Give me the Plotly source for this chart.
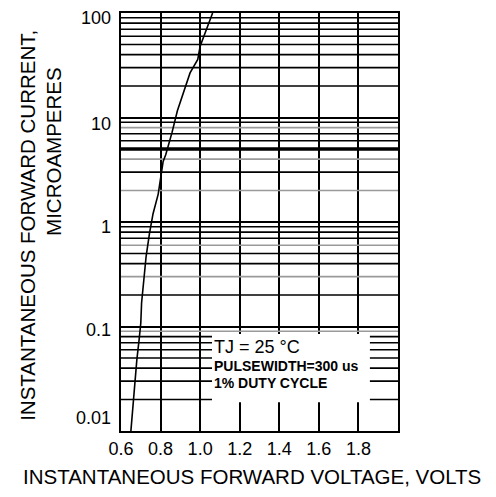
import math
import plotly.graph_objects as go

# ---- data ----
voltage = [0.65, 0.657, 0.669, 0.68, 0.692, 0.70, 0.704, 0.713, 0.727, 0.744,
           0.762, 0.788, 0.801, 0.813, 0.826, 0.858, 0.885, 0.949, 0.988, 1.0, 1.063]
current = [0.01, 0.015, 0.027, 0.048, 0.076, 0.108, 0.168, 0.26, 0.47, 0.78,
           1.2, 1.85, 2.84, 3.8, 4.4, 7.2, 11.6, 26.7, 36, 48, 100]

x_tickvals = [0.6, 0.8, 1.0, 1.2, 1.4, 1.6, 1.8]
x_ticktext = ["0.6", "0.8", "1.0", "1.2", "1.4", "1.6", "1.8"]
y_tickvals = [0.01, 0.1, 1, 10, 100]
y_ticktext = ["0.01", "0.1", "1", "10", "100"]

minor_black = [0.02, 0.03, 0.04, 0.05, 0.06, 0.07, 0.08,
               0.2, 0.4, 0.5, 0.7, 0.8, 0.9,
               3, 5, 6, 7, 9,
               20, 30, 40, 50, 60, 70, 80, 90]
minor_gray = [0.09, 0.3, 0.6, 2, 4, 8]
thick_level = [5]

X_MIN, X_MAX = 0.6, 2.0
FONT = "Liberation Sans, Arial, sans-serif"
# pixel nudges of the y tick labels (the scan prints them slightly off the lines)
Y_LABEL_SHIFT = {"0.01": 13, "0.1": -3, "1": -5, "10": -6, "100": -5}


def hlines(vals):
    xs, ys = [], []
    for v in vals:
        xs += [X_MIN, X_MAX, None]
        ys += [v, v, None]
    return xs, ys


fig = go.Figure()

xs, ys = hlines(minor_black)
fig.add_trace(go.Scatter(x=xs, y=ys, mode="lines", hoverinfo="skip",
                         line=dict(color="black", width=1.6), showlegend=False))
xs, ys = hlines(minor_gray)
fig.add_trace(go.Scatter(x=xs, y=ys, mode="lines", hoverinfo="skip",
                         line=dict(color="#9a9a9a", width=1.6), showlegend=False))
xs, ys = hlines(thick_level)
fig.add_trace(go.Scatter(x=xs, y=ys, mode="lines", hoverinfo="skip",
                         line=dict(color="black", width=3.5), showlegend=False))

fig.add_trace(go.Scatter(x=voltage, y=current, mode="lines",
                         line=dict(color="black", width=1.6), showlegend=False))

# white box behind the test-condition note
fig.add_shape(type="rect", xref="x", yref="y domain",
              x0=1.06, x1=1.858, y0=0.069, y1=0.232,
              fillcolor="white", line=dict(width=0), layer="above")

fig.add_annotation(text="TJ = 25 °C", xref="x", yref="y domain",
                   x=1.06, y=0.200, xanchor="left", yanchor="middle",
                   showarrow=False, font=dict(family=FONT, size=18, color="black"))
fig.add_annotation(text="<b>PULSEWIDTH=300 us</b>", xref="x", yref="y domain",
                   x=1.06, y=0.1555, xanchor="left", yanchor="middle",
                   showarrow=False, font=dict(family=FONT, size=14, color="black"))
fig.add_annotation(text="<b>1% DUTY CYCLE</b>", xref="x", yref="y domain",
                   x=1.06, y=0.1148, xanchor="left", yanchor="middle",
                   showarrow=False, font=dict(family=FONT, size=14, color="black"))

# y tick labels (placed on the log axis at their values)
for v, t in zip(y_tickvals, y_ticktext):
    fig.add_annotation(text=t, xref="paper", yref="y", x=-0.029, y=math.log10(v),
                       xanchor="right", yanchor="middle", yshift=Y_LABEL_SHIFT[t],
                       showarrow=False, font=dict(family=FONT, size=18, color="black"))

# axis titles
fig.add_annotation(text="INSTANTANEOUS FORWARD CURRENT,", xref="paper", yref="paper",
                   x=-0.336, y=0.493, textangle=-90, xanchor="center", yanchor="middle",
                   showarrow=False, font=dict(family=FONT, size=20.5, color="black"))
fig.add_annotation(text="MICROAMPERES", xref="paper", yref="paper",
                   x=-0.242, y=0.670, textangle=-90, xanchor="center", yanchor="middle",
                   showarrow=False, font=dict(family=FONT, size=20.5, color="black"))
fig.add_annotation(text="INSTANTANEOUS FORWARD VOLTAGE, VOLTS", xref="paper", yref="paper",
                   x=0.473, y=-0.108, xanchor="center", yanchor="middle",
                   showarrow=False, font=dict(family=FONT, size=20.5, color="black"))

fig.update_xaxes(range=[X_MIN, X_MAX], tickmode="array", tickvals=x_tickvals,
                 ticktext=x_ticktext, showgrid=True, gridcolor="black", gridwidth=2,
                 showline=True, linecolor="black", linewidth=2, mirror=True,
                 zeroline=False, ticks="", tickfont=dict(family=FONT, size=18, color="black"))
fig.update_yaxes(type="log", range=[-2, 2], tickmode="array", tickvals=y_tickvals,
                 ticktext=y_ticktext, showticklabels=False, showgrid=True,
                 gridcolor="black", gridwidth=2,
                 showline=True, linecolor="black", linewidth=2, mirror=True,
                 zeroline=False, ticks="")

# page body adds an 8px margin, so the figure is sized/positioned to compensate
fig.update_layout(width=488, height=489, autosize=False,
                  margin=dict(l=113, r=98, t=5, b=66, autoexpand=False),
                  paper_bgcolor="white", plot_bgcolor="white")

fig.write_html("out.html")
